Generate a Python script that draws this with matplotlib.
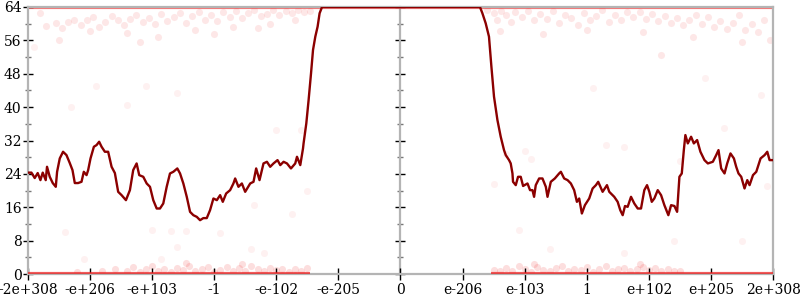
import numpy as np
import matplotlib.pyplot as plt

# x positions are tick slots (-6 .. 6), one slot per label below
tick_labels = ['-2e+308', '-e+206', '-e+103', '-1', '-e-102', '-e-205', '0',
               'e-206', 'e-103', '1', 'e+102', 'e+205', '2e+308']
tick_pos = list(range(-6, 7))

# smoothed curve
line_x = [-6.0, -5.94, -5.887, -5.839, -5.795, -5.758, -5.71, -5.689, -5.645, -5.597,
          -5.548, -5.527, -5.484, -5.431, -5.376, -5.323, -5.279, -5.242, -5.189, -5.134,
          -5.097, -5.053, -5.027, -4.989, -4.935, -4.892, -4.85, -4.811, -4.758, -4.705,
          -4.65, -4.597, -4.544, -4.489, -4.419, -4.355, -4.302, -4.247, -4.205, -4.14,
          -4.085, -4.032, -3.979, -3.924, -3.871, -3.818, -3.763, -3.71, -3.656, -3.592,
          -3.548, -3.495, -3.44, -3.387, -3.334, -3.279, -3.226, -3.173, -3.118, -3.065,
          -3.011, -2.956, -2.903, -2.86, -2.806, -2.742, -2.689, -2.661, -2.608, -2.553,
          -2.5, -2.419, -2.366, -2.323, -2.269, -2.205, -2.15, -2.097, -2.044, -1.979,
          -1.935, -1.882, -1.827, -1.763, -1.694, -1.666, -1.613, -1.569, -1.56, -1.516,
          -1.479, -1.44, -1.408, -1.371, -1.334, -1.302, -1.263,
          1.279, 1.318, 1.371, 1.424, 1.463, 1.505, 1.56, 1.613, 1.666, 1.694,
          1.747, 1.774, 1.802, 1.811, 1.855, 1.892, 1.935, 1.973, 2.044, 2.085,
          2.124, 2.15, 2.177, 2.231, 2.285, 2.339, 2.366, 2.419, 2.484, 2.553,
          2.581, 2.634, 2.689, 2.742, 2.795, 2.839, 2.876, 2.919, 2.968, 3.037,
          3.092, 3.145, 3.182, 3.253, 3.323, 3.36, 3.44, 3.495, 3.537, 3.576,
          3.613, 3.656, 3.71, 3.763, 3.818, 3.871, 3.924, 3.968, 4.005, 4.044,
          4.085, 4.14, 4.194, 4.247, 4.311, 4.355, 4.408, 4.452, 4.489, 4.527,
          4.56, 4.585, 4.624, 4.677, 4.721, 4.774, 4.827, 4.892, 4.947, 5.027,
          5.081, 5.118, 5.161, 5.215, 5.258, 5.311, 5.366, 5.403, 5.44, 5.484,
          5.537, 5.581, 5.618, 5.673, 5.726, 5.795, 5.86, 5.903, 5.94, 6.0]
line_y = [24.3, 24.3, 23.0, 24.2, 22.5, 24.3, 22.5, 25.7, 23.3, 21.8,
          20.9, 24.5, 27.7, 29.3, 28.5, 26.6, 24.9, 21.8, 21.8, 22.1,
          24.5, 23.7, 24.9, 27.7, 30.5, 30.9, 31.7, 30.5, 29.3, 29.3,
          25.7, 24.2, 19.7, 18.9, 17.7, 20.1, 24.9, 26.5, 23.7, 23.3,
          21.7, 20.9, 17.7, 15.7, 15.7, 16.9, 20.9, 24.1, 24.5, 25.3,
          24.1, 21.7, 18.5, 14.9, 14.1, 13.7, 12.9, 13.4, 13.4, 15.3,
          18.1, 17.7, 18.9, 17.3, 19.3, 20.1, 21.7, 22.9, 20.9, 21.7,
          19.7, 21.7, 22.1, 25.3, 22.5, 26.5, 26.9, 25.7, 26.5, 27.3,
          26.1, 26.9, 26.5, 25.3, 26.5, 28.1, 26.1, 30.1, 31.3, 36.1,
          41.7, 48.1, 53.7, 56.9, 59.3, 62.5, 64.0,
          64.0, 62.5, 60.1, 56.9, 49.7, 42.5, 36.9, 32.9, 29.7, 28.5,
          27.3, 26.5, 24.1, 22.1, 21.3, 23.3, 23.3, 21.1, 21.7, 20.1,
          20.1, 18.5, 21.3, 22.9, 22.9, 20.9, 18.5, 22.1, 22.9, 24.1,
          24.5, 22.9, 22.5, 21.7, 20.1, 17.3, 18.1, 14.5, 16.5, 18.1,
          20.5, 21.3, 22.1, 19.7, 21.3, 19.7, 18.5, 17.3, 15.3, 14.1,
          16.3, 16.1, 18.5, 16.9, 15.7, 15.7, 20.1, 21.3, 19.7, 17.3,
          18.1, 20.1, 18.9, 16.5, 14.1, 16.5, 16.3, 14.9, 23.3, 24.1,
          29.7, 33.3, 31.3, 32.9, 31.3, 32.1, 29.3, 27.3, 26.5, 26.9,
          28.5, 29.7, 25.3, 24.1, 26.5, 28.9, 27.7, 25.7, 24.1, 23.3,
          20.5, 22.5, 21.3, 23.7, 24.5, 27.7, 28.5, 29.3, 27.3, 27.3]

# saturated samples piled on the limits (x ranges)
top_band = [(-6.0, 6.0)]
bottom_band = [(-6.0, -1.45), (1.45, 6.0)]

# faint individual samples
top_pts_x = [-5.7, -5.55, -5.45, -5.35, -5.25, -5.15, -5.05, -4.95, -4.85, -4.75,
             -4.65, -4.55, -4.45, -4.35, -4.25, -4.15, -4.05, -3.95, -3.85, -3.75,
             -3.65, -3.55, -3.45, -3.35, -3.25, -3.15, -3.05, -2.95, -2.85, -2.75,
             -2.65, -2.55, -2.45, -2.35, -2.25, -2.15, -2.05, -1.95, -1.85, -1.75,
             -1.65, -1.55, -1.45, -5.8, -5.0, -4.4, -3.9, -3.3, -2.7, -2.1,
             -1.7, -5.5, -4.2, -3.0, -2.3,
             1.40, 1.50, 1.55, 1.62, 1.70, 1.78, 1.85, 1.95, 2.05, 2.15,
             2.25, 2.35, 2.45, 2.55, 2.65, 2.75, 2.85, 2.95, 3.05, 3.15,
             3.25, 3.35, 3.45, 3.55, 3.65, 3.75, 3.85, 3.95, 4.05, 4.15,
             4.25, 4.35, 4.45, 4.55, 4.65, 4.75, 4.85, 4.95, 5.05, 5.15,
             5.25, 5.35, 5.45, 5.55, 5.65, 5.75, 5.85, 1.6, 2.3, 3.0,
             3.9, 4.7, 5.5, 5.95, 4.2]
top_pts_y = [59.5, 60.2, 59.0, 60.5, 61.0, 59.8, 60.8, 61.5, 59.2, 60.4,
             61.8, 60.9, 59.6, 61.2, 62.0, 60.3, 61.4, 59.9, 62.3, 60.7,
             61.6, 62.5, 60.1, 61.9, 62.8, 61.0, 62.2, 60.6, 62.9, 61.7,
             63.0, 61.3, 62.6, 63.2, 61.8, 62.4, 63.3, 62.0, 63.1, 62.5,
             63.4, 62.7, 63.0, 62.5, 58.3, 57.8, 56.9, 58.6, 59.3, 60.0,
             60.8, 56.0, 55.5, 57.5, 58.9,
             63.2, 62.5, 61.0, 63.0, 62.0, 60.5, 62.8, 61.5, 63.1, 60.8,
             62.3, 61.2, 63.0, 60.2, 62.0, 61.4, 59.6, 62.6, 60.9, 61.8,
             63.2, 60.4, 62.1, 61.0, 62.7, 61.5, 62.9, 61.2, 62.4, 60.6,
             61.9, 60.2, 61.3, 59.8, 61.0, 62.2, 60.0, 61.5, 59.2, 60.7,
             58.8, 60.2, 62.0, 58.5, 59.9, 58.0, 61.0, 58.2, 57.5, 58.6,
             57.9, 56.8, 55.6, 56.0, 52.5]

low_pts_x = [-4.6, -4.4, -4.3, -4.2, -4.1, -4.0, -3.9, -3.8, -3.7, -3.6,
             -3.5, -3.4, -3.3, -3.2, -3.1, -3.0, -2.9, -2.8, -2.7, -2.6,
             -2.5, -2.4, -2.3, -2.2, -2.1, -2.0, -1.9, -1.8, -1.7, -1.6,
             -1.5, -4.8, -5.2, -3.45, -2.55,
             1.5, 1.6, 1.7, 1.8, 1.9, 2.0, 2.1, 2.2, 2.3, 2.4,
             2.5, 2.6, 2.7, 2.8, 2.9, 3.0, 3.1, 3.2, 3.3, 3.4,
             3.5, 3.6, 3.7, 3.8, 3.9, 4.0, 4.1, 4.2, 4.3, 4.4,
             4.5, 2.15, 3.85]
low_pts_y = [1.2, 0.8, 1.6, 0.5, 1.1, 1.8, 0.7, 1.3, 0.4, 1.5,
             0.9, 1.9, 0.6, 1.2, 1.7, 0.5, 1.0, 1.6, 0.8, 1.4,
             0.6, 1.8, 1.1, 0.7, 1.5, 0.9, 1.3, 0.5, 1.1, 0.8,
             1.4, 0.6, 0.4, 2.6, 2.4,
             1.0, 0.6, 1.5, 0.8, 1.9, 1.2, 0.5, 1.7, 1.0, 0.7,
             1.4, 1.8, 0.6, 1.2, 0.9, 1.6, 0.5, 1.3, 1.9, 0.8,
             1.1, 1.5, 0.6, 1.2, 1.7, 0.9, 1.4, 0.7, 1.1, 0.8,
             0.6, 2.5, 2.3]

stray_x = [-5.4, -5.1, -4.0, -3.7, -3.45, -3.6, -3.85, -2.9, -2.4, -2.2,
           -5.3, -4.4, -5.9, -4.9, -4.1, -3.6, -2.0, -1.6, -1.5, -1.75,
           -2.35, 1.5, 1.7, 2.0, 2.1, 3.3, 3.6, 4.3, 4.5, 5.2,
           5.9, 2.4, 3.6, 4.4, 5.5, 1.9, 5.8, 4.9, 3.1]
stray_y = [10.0, 3.5, 10.5, 10.4, 10.4, 6.5, 3.5, 9.8, 6.0, 5.0,
           40.0, 40.5, 54.5, 45.0, 45.0, 43.5, 34.5, 34.5, 20.0, 14.5,
           16.5, 21.5, 28.8, 29.5, 27.5, 31.0, 30.5, 15.5, 27.2, 35.0,
           21.0, 6.0, 5.0, 8.0, 8.0, 10.5, 43.0, 47.0, 44.5]

plt.rcParams['font.family'] = ['DejaVu Serif']
plt.rcParams['font.size'] = 10

fig = plt.figure(figsize=(8, 3), dpi=100)
ax = fig.add_axes([27.7 / 800, 26 / 300, (773.3 - 27.7) / 800, 267 / 300])

axis_grey = '#b4b4b4'
pt_red = '#f01818'

for x0, x1 in top_band:
    ax.plot([x0, x1], [64, 64], color=pt_red, alpha=0.6, lw=3.0, solid_capstyle='butt', zorder=1)
for x0, x1 in bottom_band:
    ax.plot([x0, x1], [0, 0], color=pt_red, alpha=0.7, lw=3.0, solid_capstyle='butt', zorder=3)

ax.scatter(top_pts_x, top_pts_y, s=26, color=pt_red, alpha=0.1, lw=0, zorder=1)
ax.scatter(low_pts_x, low_pts_y, s=26, color=pt_red, alpha=0.14, lw=0, zorder=1)
ax.scatter(stray_x, stray_y, s=26, color=pt_red, alpha=0.06, lw=0, zorder=1)

ax.plot(line_x, line_y, color='#8b0000', lw=1.7, zorder=4)

ax.set_xlim(-6, 6)
ax.set_ylim(0, 64)
for side in ['left', 'right', 'bottom', 'top']:
    ax.spines[side].set_color(axis_grey)
    ax.spines[side].set_linewidth(1.6)

ax.set_xticks(tick_pos)
ax.set_xticklabels(tick_labels)
ax.set_yticks(range(0, 65, 8))
ax.set_yticks(range(4, 64, 8), minor=True)
ax.tick_params(axis='x', direction='inout', length=9, width=1, color='black', pad=2)
ax.tick_params(axis='y', which='major', direction='inout', length=7, width=1,
               color='black', right=True, pad=1)
ax.tick_params(axis='y', which='minor', direction='inout', length=5, width=1,
               color='#777777', right=True)

# middle axis at x = 0
ax2 = ax.twinx()
ax2.set_ylim(0, 64)
ax2.spines['right'].set_position(('data', 0))
ax2.spines['right'].set_color(axis_grey)
ax2.spines['right'].set_linewidth(1.6)
for side in ['left', 'top', 'bottom']:
    ax2.spines[side].set_visible(False)
ax2.set_yticks(range(0, 65, 8))
ax2.set_yticks(range(4, 64, 8), minor=True)
ax2.tick_params(axis='y', which='major', direction='inout', length=7, width=1,
                color='black', labelright=False)
ax2.tick_params(axis='y', which='minor', direction='inout', length=5, width=1,
                color='#777777', labelright=False)
ax2.set_zorder(0)
ax.set_zorder(1)
ax.patch.set_visible(False)

fig.savefig('out.png', dpi=100)
